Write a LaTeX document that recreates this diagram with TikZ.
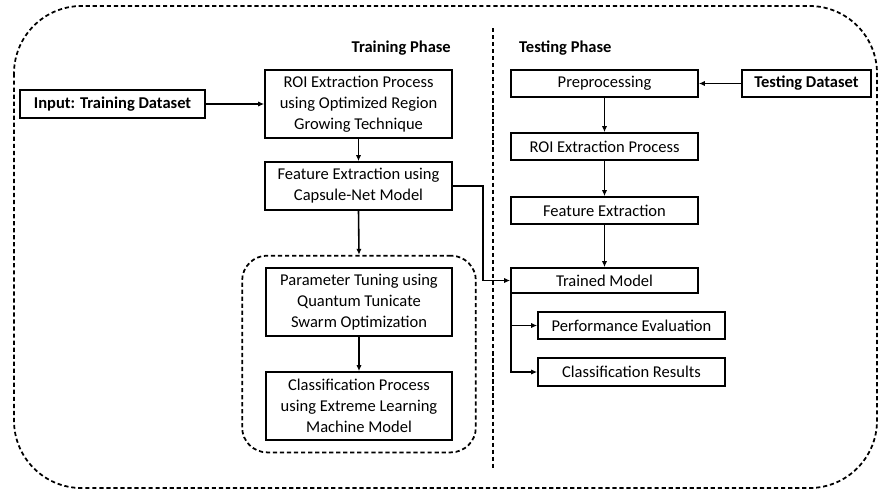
\documentclass[tikz,border=0pt]{standalone}
\usepackage{fontspec}
\setmainfont{Carlito}
\usetikzlibrary{arrows.meta,fit}
\tikzset{
  blk/.style={draw, line width=1pt, align=center, inner sep=1pt,
    font=\fontsize{9.4}{12}\selectfont},
  arr/.style={line width=0.9pt, -{Latex[length=3.4pt,width=3pt]}},
  dsh/.style={line width=1pt, dash pattern=on 2.4pt off 1.6pt}
}
\begin{document}
\begin{tikzpicture}[x=0.02cm,y=-0.02cm]
  \useasboundingbox (0,0) rectangle (879,495);
  % frame and divider
  \draw[dsh, rounded corners=1.35cm] (14,6) rectangle (877,488);
  \draw[dsh] (493,28) -- (493,470);
  \node[anchor=east, font=\fontsize{9.4}{12}\selectfont\bfseries] (trh) at (457,48) {Training Phase};
  \node[anchor=west, font=\fontsize{9.4}{12}\selectfont\bfseries] (tsh) at (513,48) {Testing Phase};
  % training side
  \node[blk, minimum width=3.7cm, minimum height=0.56cm, font=\fontsize{9.4}{12}\selectfont\bfseries] (inp) at (112.5,104) {Input: Training Dataset};
  \node[blk, minimum width=3.74cm, minimum height=1.36cm] (roi) at (358.5,104) {ROI Extraction Process\\using Optimized Region\\Growing Technique};
  \node[blk, minimum width=3.74cm, minimum height=0.96cm] (feat) at (358.5,186) {Feature Extraction using\\Capsule-Net Model};
  \node[blk, minimum width=3.72cm, minimum height=1.36cm] (tune) at (359,302) {Parameter Tuning using\\Quantum Tunicate\\Swarm Optimization};
  \node[blk, minimum width=3.72cm, minimum height=1.36cm] (clf) at (359,406) {Classification Process\\using Extreme Learning\\Machine Model};
  \node[dsh, draw, rounded corners=0.5cm, fit=(tune)(clf), inner xsep=0.46cm, inner ysep=0.23cm] (grp) {};
  % testing side
  \node[blk, minimum width=3.74cm, minimum height=0.54cm] (pre) at (604.5,83.5) {Preprocessing};
  \node[blk, minimum width=2.58cm, minimum height=0.54cm, font=\fontsize{9.4}{12}\selectfont\bfseries] (tds) at (806.5,83.5) {Testing Dataset};
  \node[blk, minimum width=3.74cm, minimum height=0.54cm] (roit) at (604.5,146.5) {ROI Extraction Process};
  \node[blk, minimum width=3.74cm, minimum height=0.54cm] (featt) at (604.5,210.5) {Feature Extraction};
  \node[blk, minimum width=3.74cm, minimum height=0.5cm] (trm) at (604.5,280.5) {Trained Model};
  \node[blk, minimum width=3.74cm, minimum height=0.54cm] (perf) at (631.5,325.5) {Performance Evaluation};
  \node[blk, minimum width=3.74cm, minimum height=0.56cm] (res) at (631.5,372) {Classification Results};
  % connectors
  \draw[arr] (inp) -- (roi);
  \draw[arr] (roi) -- (feat);
  \draw[arr] (feat.south) -- (grp.north);
  \draw[arr] (tune) -- (clf);
  \draw[arr] (tds) -- (pre);
  \draw[arr] (pre) -- (roit);
  \draw[arr] (roit) -- (featt);
  \draw[arr] (featt) -- (trm);
  \draw[arr] (feat.east) -- ++(30,0) |- (trm.west);
  \draw[arr] ([xshift=0.02cm]trm.south west) |- (perf.west);
  \draw[arr] ([xshift=0.02cm]trm.south west) |- (res.west);
\end{tikzpicture}
\end{document}
